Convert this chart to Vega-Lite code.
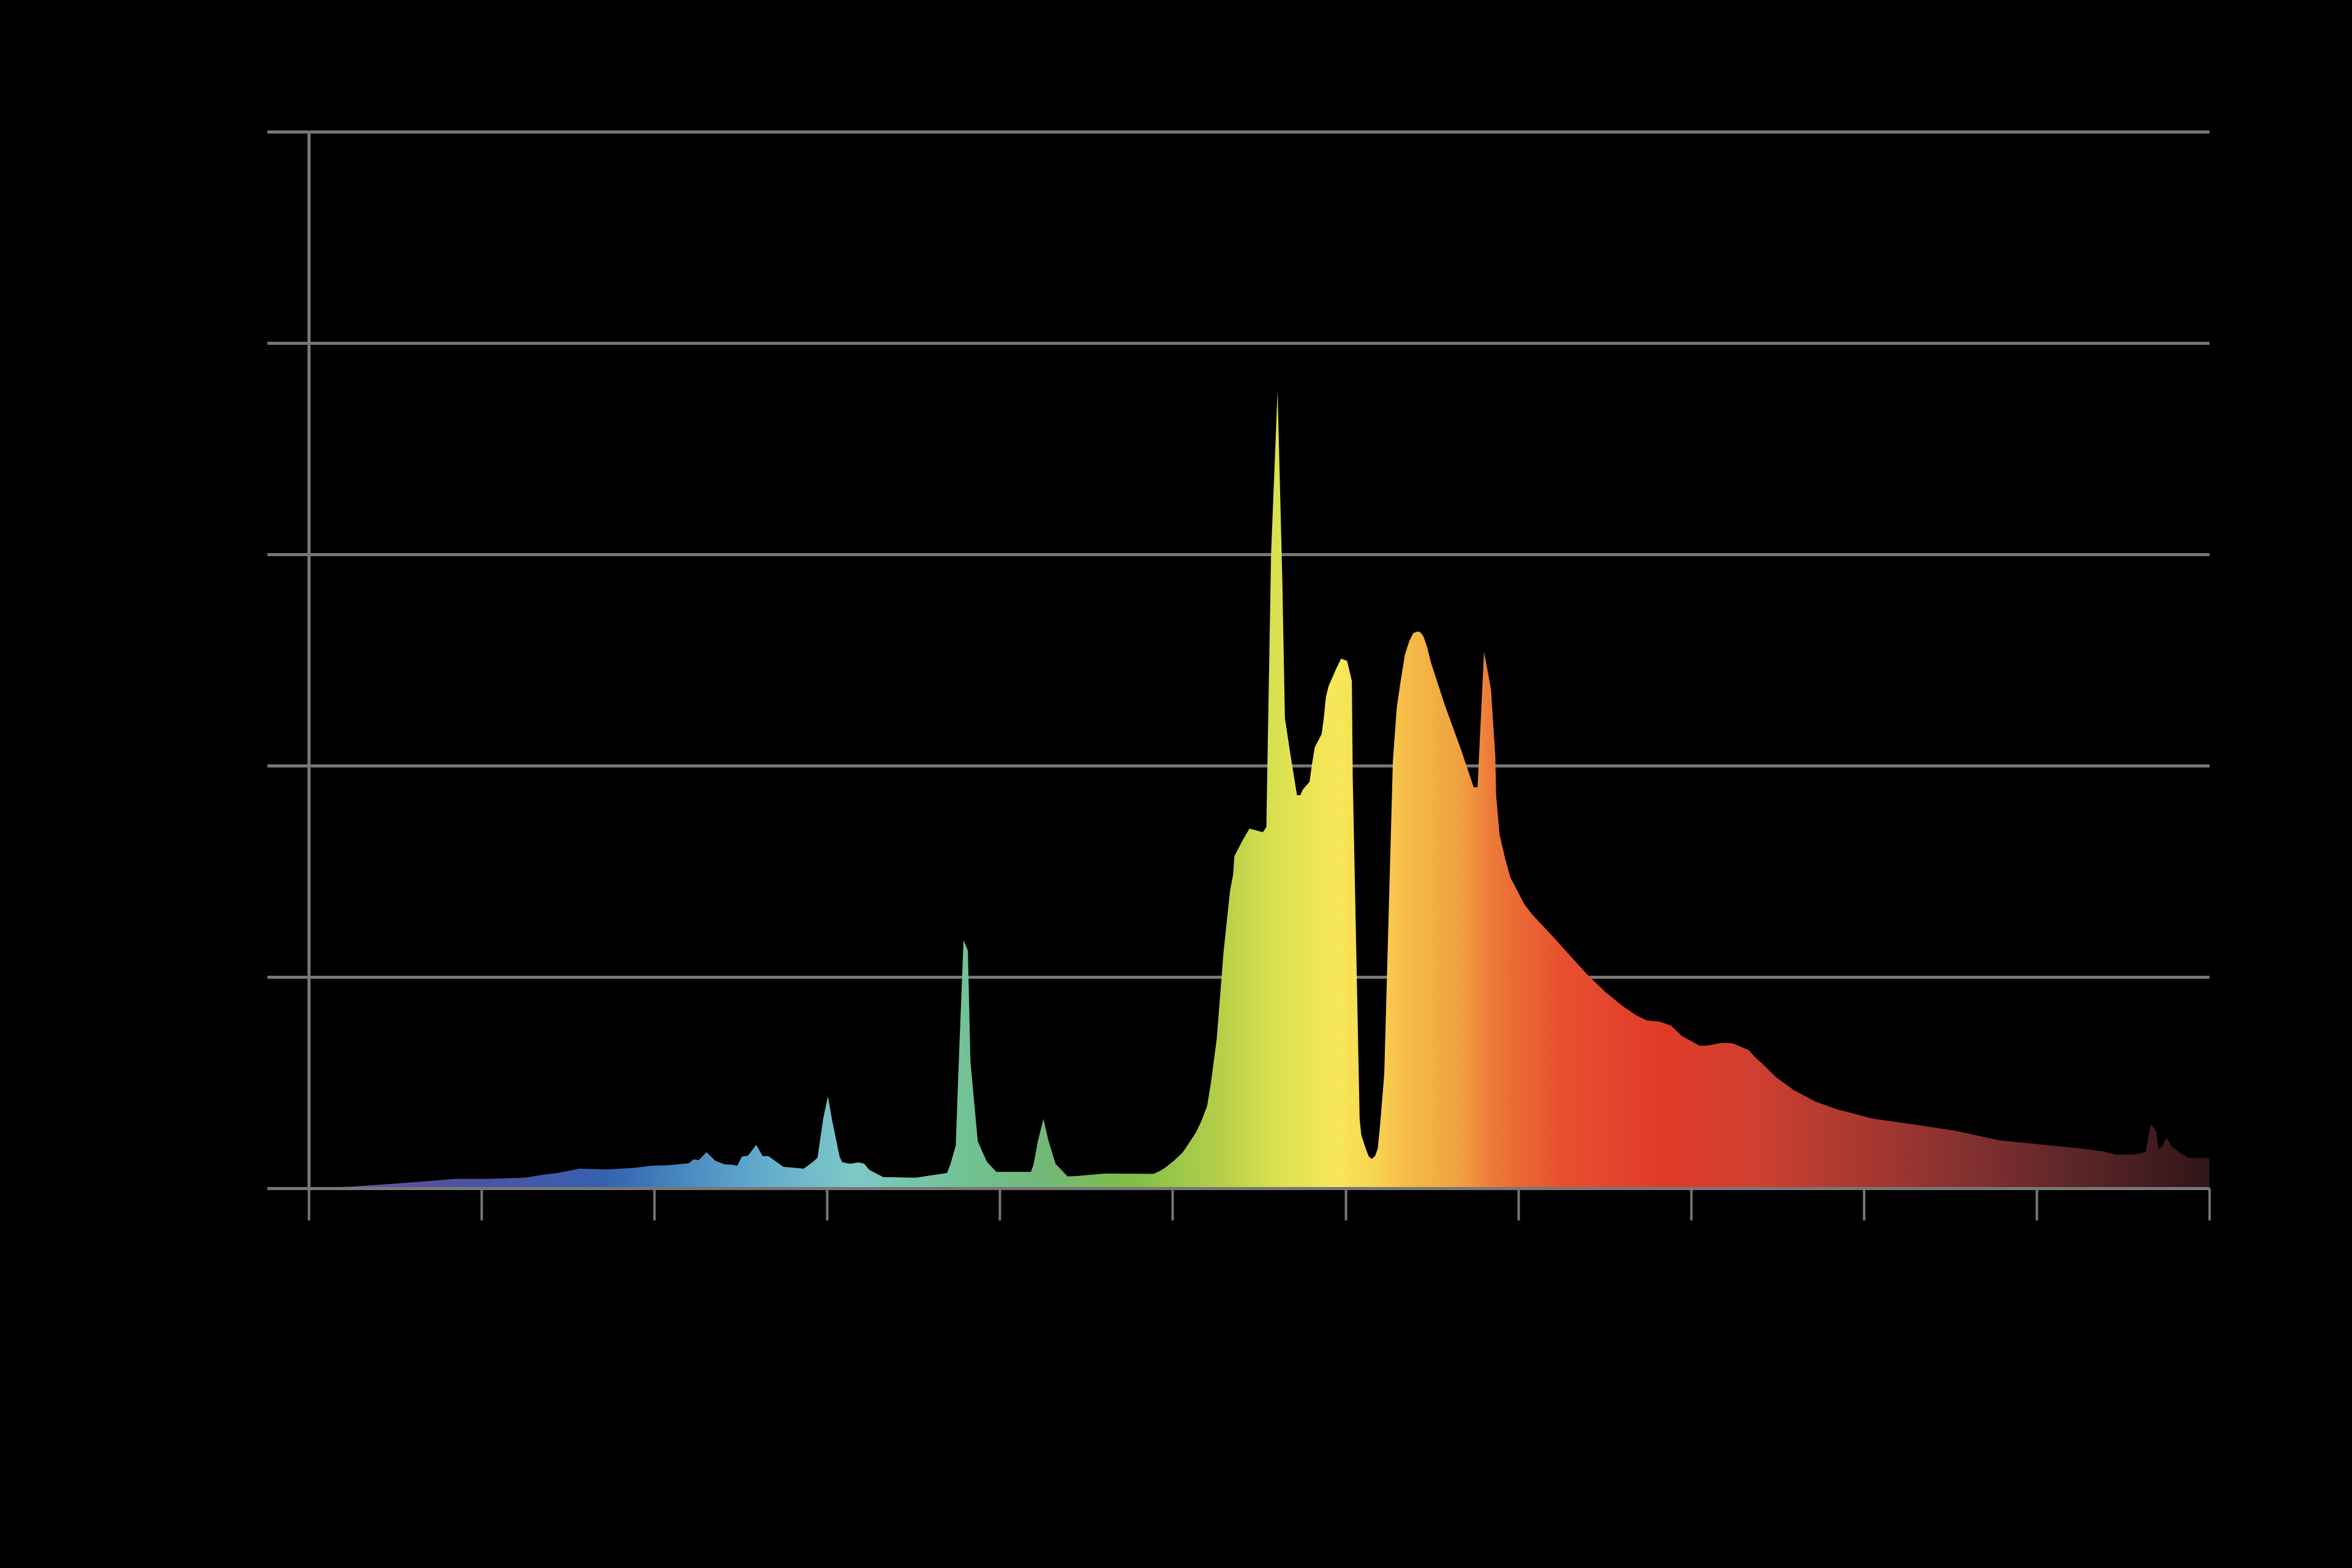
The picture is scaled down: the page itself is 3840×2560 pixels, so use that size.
{
  "$schema": "https://vega.github.io/schema/vega-lite/v6.json",
  "autosize": {"type": "none"},
  "padding": {"left": 504, "top": 215, "right": 233, "bottom": 620},
  "width": 3103,
  "height": 1725,
  "background": "#000000",
  "config": {"view": {"stroke": null}, "font": "Liberation Sans"},
  "data": {"values": [
    {"wavelength": 340.0, "power": 0.0005},
    {"wavelength": 349.6, "power": 0.0015},
    {"wavelength": 358.4, "power": 0.0039},
    {"wavelength": 366.0, "power": 0.0062},
    {"wavelength": 373.6, "power": 0.0089},
    {"wavelength": 381.2, "power": 0.0089},
    {"wavelength": 390.1, "power": 0.0100},
    {"wavelength": 393.9, "power": 0.0126},
    {"wavelength": 397.7, "power": 0.0145},
    {"wavelength": 402.7, "power": 0.0186},
    {"wavelength": 405.3, "power": 0.0182},
    {"wavelength": 409.1, "power": 0.0178},
    {"wavelength": 415.4, "power": 0.0193},
    {"wavelength": 419.2, "power": 0.0213},
    {"wavelength": 423.0, "power": 0.0218},
    {"wavelength": 428.0, "power": 0.0236},
    {"wavelength": 429.1, "power": 0.0274},
    {"wavelength": 430.3, "power": 0.0265},
    {"wavelength": 432.1, "power": 0.0342},
    {"wavelength": 434.1, "power": 0.0261},
    {"wavelength": 436.3, "power": 0.0226},
    {"wavelength": 438.2, "power": 0.0222},
    {"wavelength": 439.2, "power": 0.0213},
    {"wavelength": 440.3, "power": 0.0300},
    {"wavelength": 441.7, "power": 0.0309},
    {"wavelength": 443.6, "power": 0.0410},
    {"wavelength": 445.1, "power": 0.0305},
    {"wavelength": 446.4, "power": 0.0305},
    {"wavelength": 449.9, "power": 0.0203},
    {"wavelength": 454.6, "power": 0.0186},
    {"wavelength": 456.5, "power": 0.0242},
    {"wavelength": 457.8, "power": 0.0290},
    {"wavelength": 459.1, "power": 0.0657},
    {"wavelength": 460.2, "power": 0.0870},
    {"wavelength": 461.2, "power": 0.0638},
    {"wavelength": 462.9, "power": 0.0300},
    {"wavelength": 463.5, "power": 0.0247},
    {"wavelength": 465.4, "power": 0.0232},
    {"wavelength": 467.3, "power": 0.0245},
    {"wavelength": 468.6, "power": 0.0232},
    {"wavelength": 469.8, "power": 0.0174},
    {"wavelength": 473.0, "power": 0.0106},
    {"wavelength": 480.6, "power": 0.0100},
    {"wavelength": 487.8, "power": 0.0145},
    {"wavelength": 488.6, "power": 0.0232},
    {"wavelength": 489.8, "power": 0.0406},
    {"wavelength": 490.5, "power": 0.1198},
    {"wavelength": 491.6, "power": 0.2348},
    {"wavelength": 492.6, "power": 0.2251},
    {"wavelength": 493.2, "power": 0.1198},
    {"wavelength": 494.9, "power": 0.0444},
    {"wavelength": 497.0, "power": 0.0251},
    {"wavelength": 499.2, "power": 0.0155},
    {"wavelength": 507.2, "power": 0.0155},
    {"wavelength": 507.8, "power": 0.0222},
    {"wavelength": 508.8, "power": 0.0444},
    {"wavelength": 510.1, "power": 0.0657},
    {"wavelength": 511.3, "power": 0.0444},
    {"wavelength": 512.9, "power": 0.0232},
    {"wavelength": 515.7, "power": 0.0112},
    {"wavelength": 517.9, "power": 0.0116},
    {"wavelength": 524.3, "power": 0.0139},
    {"wavelength": 535.6, "power": 0.0136},
    {"wavelength": 537.2, "power": 0.0166},
    {"wavelength": 538.5, "power": 0.0201},
    {"wavelength": 540.3, "power": 0.0261},
    {"wavelength": 542.3, "power": 0.0337},
    {"wavelength": 543.8, "power": 0.0427},
    {"wavelength": 545.4, "power": 0.0528},
    {"wavelength": 546.7, "power": 0.0639},
    {"wavelength": 548.0, "power": 0.0779},
    {"wavelength": 548.9, "power": 0.1006},
    {"wavelength": 550.2, "power": 0.1408},
    {"wavelength": 551.8, "power": 0.2237},
    {"wavelength": 553.3, "power": 0.2816},
    {"wavelength": 554.0, "power": 0.2966},
    {"wavelength": 554.3, "power": 0.3142},
    {"wavelength": 556.2, "power": 0.3293},
    {"wavelength": 557.8, "power": 0.3404},
    {"wavelength": 560.9, "power": 0.3369},
    {"wavelength": 561.7, "power": 0.3419},
    {"wavelength": 562.8, "power": 0.6008},
    {"wavelength": 564.3, "power": 0.7550},
    {"wavelength": 565.4, "power": 0.5757},
    {"wavelength": 566.0, "power": 0.4449},
    {"wavelength": 567.3, "power": 0.4098},
    {"wavelength": 568.8, "power": 0.3720},
    {"wavelength": 569.6, "power": 0.3720},
    {"wavelength": 570.1, "power": 0.3771},
    {"wavelength": 571.7, "power": 0.3846},
    {"wavelength": 572.3, "power": 0.4022},
    {"wavelength": 572.9, "power": 0.4173},
    {"wavelength": 574.5, "power": 0.4299},
    {"wavelength": 575.0, "power": 0.4449},
    {"wavelength": 575.5, "power": 0.4651},
    {"wavelength": 576.1, "power": 0.4751},
    {"wavelength": 577.7, "power": 0.4902},
    {"wavelength": 579.0, "power": 0.5013},
    {"wavelength": 580.4, "power": 0.4992},
    {"wavelength": 581.5, "power": 0.4801},
    {"wavelength": 581.7, "power": 0.3896},
    {"wavelength": 582.8, "power": 0.1684},
    {"wavelength": 583.3, "power": 0.0654},
    {"wavelength": 583.7, "power": 0.0503},
    {"wavelength": 584.7, "power": 0.0377},
    {"wavelength": 585.4, "power": 0.0302},
    {"wavelength": 586.1, "power": 0.0277},
    {"wavelength": 586.9, "power": 0.0307},
    {"wavelength": 587.5, "power": 0.0377},
    {"wavelength": 588.1, "power": 0.0629},
    {"wavelength": 589.0, "power": 0.1081},
    {"wavelength": 591.0, "power": 0.4047},
    {"wavelength": 591.9, "power": 0.4550},
    {"wavelength": 592.8, "power": 0.4801},
    {"wavelength": 593.8, "power": 0.5053},
    {"wavelength": 594.8, "power": 0.5179},
    {"wavelength": 595.7, "power": 0.5254},
    {"wavelength": 596.7, "power": 0.5269},
    {"wavelength": 597.3, "power": 0.5264},
    {"wavelength": 598.0, "power": 0.5229},
    {"wavelength": 598.9, "power": 0.5128},
    {"wavelength": 599.8, "power": 0.4977},
    {"wavelength": 603.0, "power": 0.4575},
    {"wavelength": 606.8, "power": 0.4148},
    {"wavelength": 609.7, "power": 0.3796},
    {"wavelength": 610.6, "power": 0.3796},
    {"wavelength": 612.1, "power": 0.5078},
    {"wavelength": 613.7, "power": 0.4726},
    {"wavelength": 614.7, "power": 0.4098},
    {"wavelength": 614.9, "power": 0.3720},
    {"wavelength": 615.7, "power": 0.3343},
    {"wavelength": 617.0, "power": 0.3120},
    {"wavelength": 618.2, "power": 0.2941},
    {"wavelength": 619.5, "power": 0.2841},
    {"wavelength": 621.4, "power": 0.2690},
    {"wavelength": 623.3, "power": 0.2589},
    {"wavelength": 625.8, "power": 0.2480},
    {"wavelength": 628.1, "power": 0.2380},
    {"wavelength": 632.1, "power": 0.2197},
    {"wavelength": 636.2, "power": 0.2015},
    {"wavelength": 640.2, "power": 0.1856},
    {"wavelength": 644.3, "power": 0.1722},
    {"wavelength": 647.3, "power": 0.1637},
    {"wavelength": 649.8, "power": 0.1588},
    {"wavelength": 652.9, "power": 0.1576},
    {"wavelength": 655.4, "power": 0.1539},
    {"wavelength": 657.9, "power": 0.1441},
    {"wavelength": 662.0, "power": 0.1349},
    {"wavelength": 663.5, "power": 0.1349},
    {"wavelength": 667.1, "power": 0.1375},
    {"wavelength": 669.6, "power": 0.1373},
    {"wavelength": 673.4, "power": 0.1307},
    {"wavelength": 674.7, "power": 0.1246},
    {"wavelength": 676.7, "power": 0.1172},
    {"wavelength": 679.7, "power": 0.1051},
    {"wavelength": 683.8, "power": 0.0929},
    {"wavelength": 688.9, "power": 0.0819},
    {"wavelength": 693.9, "power": 0.0746},
    {"wavelength": 702.0, "power": 0.0660},
    {"wavelength": 712.2, "power": 0.0600},
    {"wavelength": 721.3, "power": 0.0543},
    {"wavelength": 731.4, "power": 0.0453},
    {"wavelength": 740.5, "power": 0.0416},
    {"wavelength": 749.6, "power": 0.0380},
    {"wavelength": 755.7, "power": 0.0348},
    {"wavelength": 758.2, "power": 0.0319},
    {"wavelength": 762.8, "power": 0.0319},
    {"wavelength": 765.3, "power": 0.0343},
    {"wavelength": 765.9, "power": 0.0490},
    {"wavelength": 766.5, "power": 0.0607},
    {"wavelength": 767.7, "power": 0.0539},
    {"wavelength": 768.2, "power": 0.0373},
    {"wavelength": 768.9, "power": 0.0387},
    {"wavelength": 770.1, "power": 0.0477},
    {"wavelength": 771.4, "power": 0.0392},
    {"wavelength": 773.4, "power": 0.0331},
    {"wavelength": 775.4, "power": 0.0287},
    {"wavelength": 780.0, "power": 0.0287}
  ]},
  "mark": {
    "type": "area",
    "interpolate": "linear",
    "color": {
      "gradient": "linear",
      "x1": 0, "x2": 1, "y1": 0, "y2": 0,
      "stops": [
        {"offset": 0.0, "color": "#6a5aa8"},
        {"offset": 0.075, "color": "#5050a0"},
        {"offset": 0.157, "color": "#3462b0"},
        {"offset": 0.2, "color": "#4a8cc0"},
        {"offset": 0.236, "color": "#62aacc"},
        {"offset": 0.286, "color": "#7ec8c8"},
        {"offset": 0.343, "color": "#72c296"},
        {"offset": 0.386, "color": "#72b878"},
        {"offset": 0.432, "color": "#80bc48"},
        {"offset": 0.445, "color": "#8bc34a"},
        {"offset": 0.482, "color": "#b8d048"},
        {"offset": 0.507, "color": "#d8e050"},
        {"offset": 0.541, "color": "#f8e858"},
        {"offset": 0.564, "color": "#f8d050"},
        {"offset": 0.577, "color": "#f5bc48"},
        {"offset": 0.607, "color": "#f0a040"},
        {"offset": 0.623, "color": "#ec7838"},
        {"offset": 0.659, "color": "#e85030"},
        {"offset": 0.711, "color": "#e03a2a"},
        {"offset": 0.759, "color": "#d04030"},
        {"offset": 0.818, "color": "#a83830"},
        {"offset": 0.873, "color": "#843030"},
        {"offset": 0.932, "color": "#5a2528"},
        {"offset": 1.0, "color": "#301518"}
      ]
    }
  },
  "encoding": {
    "x": {
      "field": "wavelength",
      "type": "quantitative",
      "scale": {"domain": [340, 780], "nice": false, "zero": false},
      "axis": {
        "title": "Wavelength (nm)",
        "values": [340, 380, 420, 460, 500, 540, 580, 620, 660, 700, 740, 780],
        "grid": false,
        "domainColor": "#777777",
        "domainWidth": 5,
        "tickColor": "#777777",
        "tickWidth": 4,
        "tickSize": 52,
        "labelColor": "#000000",
        "labelFontSize": 70,
        "labelPadding": 40,
        "titleColor": "#000000",
        "titleFontSize": 84,
        "titleFontWeight": "bold",
        "titlePadding": 80,
        "zindex": 1
      }
    },
    "y": {
      "field": "power",
      "type": "quantitative",
      "scale": {"domain": [0, 1], "nice": false},
      "axis": {
        "title": null,
        "values": [0, 0.2, 0.4, 0.6, 0.8, 1.0],
        "format": ".1f",
        "grid": true,
        "gridColor": "#777777",
        "gridWidth": 5,
        "domainColor": "#777777",
        "domainWidth": 5,
        "tickColor": "#777777",
        "tickWidth": 5,
        "tickSize": 68,
        "labelColor": "#000000",
        "labelFontSize": 70,
        "labelPadding": 60,
        "zindex": 0
      }
    }
  }
}
